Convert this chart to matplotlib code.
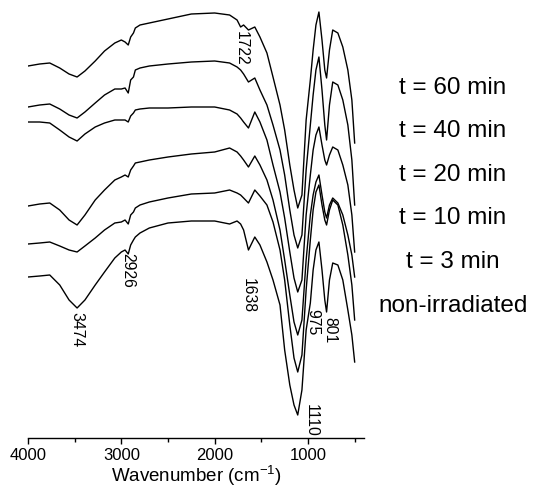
import numpy as np
import matplotlib
matplotlib.use("Agg")
import matplotlib.pyplot as plt

plt.rcParams['font.family'] = ['Liberation Sans', 'DejaVu Sans']
plt.rcParams['mathtext.fontset'] = 'custom'
plt.rcParams['mathtext.rm'] = 'Liberation Sans'

# wavenumbers (cm-1) where the traces were read
wn = [4000, 3875, 3767, 3660, 3560, 3474, 3390, 3280, 3180, 3070, 3000, 2960, 2926,
      2900, 2870, 2850, 2800, 2700, 2500, 2250, 2000, 1840, 1760, 1722, 1690, 1638,
      1570, 1515, 1440, 1375, 1300, 1250, 1195, 1150, 1110, 1065, 1020, 975, 945,
      915, 883, 850, 820, 801, 770, 735, 680, 627, 573, 530, 500]

# stacked traces (arbitrary units, larger = lower on the plot)
t60 = [66, 64, 63, 68, 74, 77, 71, 61, 51, 43, 40, 42, 45, 37, 33, 28, 25, 23, 19, 14,
       13, 15, 20, 27, 25, 30, 27, 37, 53, 77, 105, 130, 165, 190, 208, 195, 120, 80,
       50, 25, 12, 40, 70, 78, 50, 30, 33, 47, 70, 100, 143]
t40 = [107, 105, 104, 109, 115, 118, 112, 103, 95, 89, 89, 88, 93, 80, 77, 70, 68, 66,
       64, 62, 61, 63, 67, 70, 74, 82, 78, 90, 105, 125, 150, 175, 210, 235, 248, 235,
       170, 125, 95, 70, 57, 90, 125, 140, 105, 82, 85, 100, 125, 160, 205]
t20 = [122, 122, 123, 130, 137, 141, 134, 127, 123, 120, 120, 120, 122, 116, 113, 110,
       109, 108, 108, 107, 107, 110, 114, 118, 122, 128, 112, 122, 140, 165, 192, 218,
       252, 278, 292, 280, 215, 175, 150, 135, 127, 145, 160, 165, 155, 147, 150, 165,
       185, 215, 252]
t10 = [206, 204, 203, 210, 220, 225, 215, 200, 190, 180, 177, 175, 177, 170, 166, 163,
       162, 160, 157, 154, 152, 148, 152, 156, 160, 167, 156, 165, 180, 200, 230, 260,
       295, 322, 335, 320, 260, 215, 195, 182, 175, 195, 212, 218, 205, 198, 203, 215,
       235, 255, 277]
t3 = [244, 243, 242, 246, 250, 252, 246, 238, 230, 223, 222, 220, 224, 215, 212, 208,
      205, 202, 198, 194, 193, 190, 193, 195, 198, 203, 190, 196, 205, 222, 250, 280,
      325, 358, 372, 355, 290, 240, 210, 192, 185, 205, 220, 225, 210, 200, 205, 225,
      255, 285, 320]
t0 = [277, 276, 275, 285, 300, 308, 300, 285, 272, 258, 252, 250, 254, 245, 240, 237,
      233, 228, 223, 221, 221, 224, 221, 224, 230, 250, 237, 245, 262, 280, 305, 350,
      385, 405, 415, 390, 330, 303, 270, 250, 242, 270, 300, 312, 280, 263, 265, 280,
      310, 335, 362]

series = [t60, t40, t20, t10, t3, t0]
labels = ['t = 60 min', 't = 40 min', 't = 20 min', 't = 10 min', 't = 3 min',
          'non-irradiated']
peaks = ['1722', '2926', '3474', '1638', '975', '801', '1110']

fig = plt.figure(figsize=(5.4, 4.9), dpi=100)
ax = fig.add_axes([28 / 540, 52 / 490, 336 / 540, 438 / 490])

for s in series:
    ax.plot(wn, s, color='black', lw=1.0)

ax.set_xlim(4000, 400)
ax.set_ylim(438, 0)
ax.set_xticks([4000, 3000, 2000, 1000])
ax.set_xticks([3500, 2500, 1500, 500], minor=True)
ax.tick_params(axis='x', which='major', direction='out', length=4, width=1,
               labelsize=12, pad=3)
ax.tick_params(axis='x', which='minor', direction='out', length=3, width=1)
ax.set_yticks([])
for side in ['top', 'left', 'right']:
    ax.spines[side].set_visible(False)
ax.spines['bottom'].set_linewidth(1)
ax.set_xlabel('Wavenumber (cm$^{\\mathregular{-1}}$)', fontsize=13.5, labelpad=0)

# peak labels (vertical)
pos = [(1720, 48), (2931, 270), (3478, 330), (1645, 295), (950, 322), (766, 330),
       (960, 420)]
for txt, (x, y) in zip(peaks, pos):
    ax.text(x, y, txt, rotation=-90, ha='center', va='center', fontsize=11.3)

# sample labels on the right
ys = [88, 131, 175, 218, 262, 306]
for lab, y in zip(labels, ys):
    fig.text(453 / 540, 1 - y / 490, lab, ha='center', va='center', fontsize=17.5)

fig.savefig('out.png', dpi=100)
